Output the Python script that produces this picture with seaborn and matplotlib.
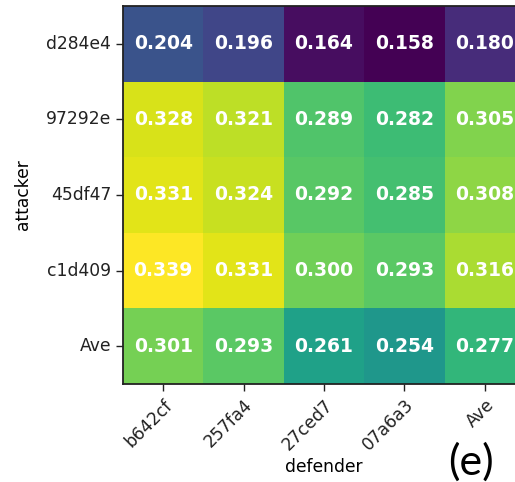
import numpy as np
import pandas as pd
import matplotlib
matplotlib.use("Agg")
import matplotlib.pyplot as plt
import seaborn as sns

attackers = ["d284e4", "97292e", "45df47", "c1d409", "Ave"]
defenders = ["b642cf", "257fa4", "27ced7", "07a6a3", "Ave"]

row_d284e4 = [0.204, 0.196, 0.164, 0.158, 0.180]
row_97292e = [0.328, 0.321, 0.289, 0.282, 0.305]
row_45df47 = [0.331, 0.324, 0.292, 0.285, 0.308]
row_c1d409 = [0.339, 0.331, 0.300, 0.293, 0.316]
row_ave = [0.301, 0.293, 0.261, 0.254, 0.277]

df = pd.DataFrame(
    [row_d284e4, row_97292e, row_45df47, row_c1d409, row_ave],
    index=pd.Index(attackers, name="attacker"),
    columns=pd.Index(defenders, name="defender"),
)

fig = plt.figure(figsize=(5.15, 4.82), dpi=100)
ax = fig.add_axes([123 / 515, 98 / 482, 402 / 515, 378 / 482])

sns.heatmap(
    df,
    ax=ax,
    cmap="viridis",
    annot=True,
    fmt=".3f",
    cbar=False,
    annot_kws={"color": "white", "fontweight": "bold", "fontsize": 13.5},
)

for side in ["left", "bottom", "top", "right"]:
    ax.spines[side].set_visible(True)
    ax.spines[side].set_color("#222222")
    ax.spines[side].set_linewidth(1.3)

ax.tick_params(axis="both", length=5, width=1.0, labelsize=12.3, colors="#222222")
ax.set_yticklabels(attackers, rotation=0)
ax.set_xticklabels(defenders, rotation=45, ha="right", rotation_mode="anchor")
ax.set_xlabel("defender", fontsize=12.3, labelpad=3)
ax.set_ylabel("attacker", fontsize=12.3, labelpad=10)

fig.text(471 / 515, 1 - 462 / 482, "(e)", fontsize=31, family=["Lato", "DejaVu Sans"],
         ha="center", va="center")

fig.savefig("out.png", dpi=100)
